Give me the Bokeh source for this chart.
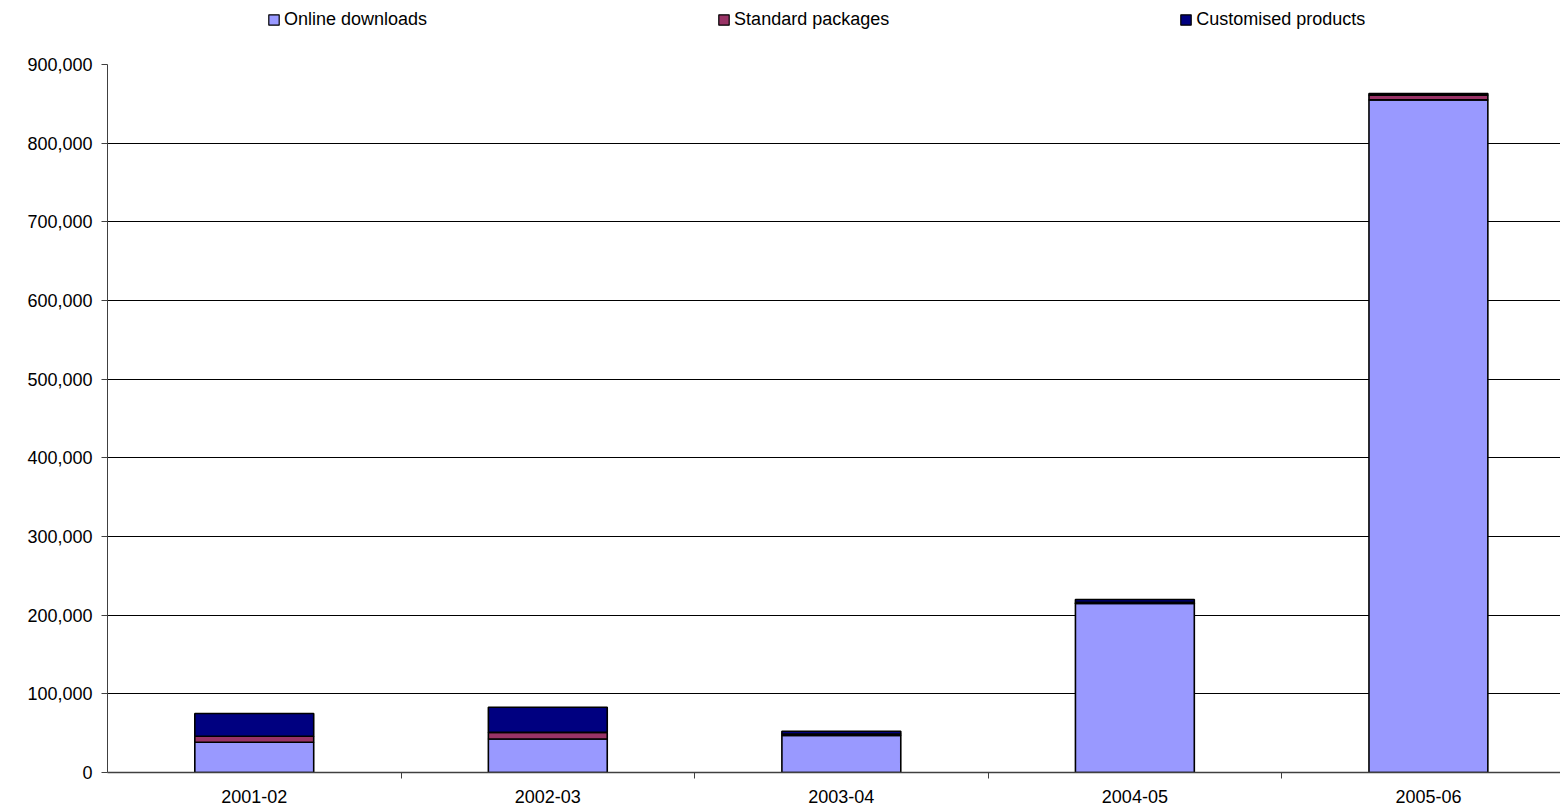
import numpy as np
from bokeh.plotting import figure
from bokeh.layouts import column
from bokeh.models import ColumnDataSource, Range1d, FixedTicker, NumeralTickFormatter, Legend, LegendItem
from bokeh.embed import file_html
from bokeh.resources import INLINE

years = ["2001-02", "2002-03", "2003-04", "2004-05", "2005-06"]
online = [38500, 42500, 47000, 215000, 855000]
standard = [7500, 8500, 2000, 1500, 6000]
customised = [29000, 32000, 3500, 3500, 2000]
series = ["Online downloads", "Standard packages", "Customised products"]
colors = ["#9999FF", "#993366", "#000080"]
keys = ["online", "standard", "customised"]

xs = list(np.arange(len(years)) + 0.5)
src = ColumnDataSource(dict(x=xs, online=online, standard=standard, customised=customised))

FONT = "Liberation Sans"
FW, FH = 1453, 708

p = figure(frame_width=FW, frame_height=FH, output_backend="svg", toolbar_location=None,
           x_range=Range1d(0, 4.95), y_range=Range1d(0, 900000),
           min_border_left=107, min_border_right=0, min_border_top=10, min_border_bottom=31)
p.outline_line_color = None
p.background_fill_color = "white"

rs = p.vbar_stack(keys, x="x", width=0.405, source=src,
                  fill_color=colors, line_color="black", line_width=1.6)

# axes
p.xaxis.ticker = FixedTicker(ticks=xs, minor_ticks=[1, 2, 3, 4])
p.xaxis.major_label_overrides = {x: y for x, y in zip(xs, years)}
p.xaxis.major_tick_line_color = None
p.xaxis.major_tick_out = 0
p.xaxis.major_tick_in = 0
p.xaxis.minor_tick_out = 6
p.xaxis.minor_tick_in = 0
p.xaxis.minor_tick_line_color = "#404040"
p.xaxis.axis_line_color = "#404040"
p.xaxis.axis_line_width = 1.5
p.xaxis.major_label_standoff = 11
p.xaxis.major_label_text_font = FONT
p.xaxis.major_label_text_font_size = "18px"
p.xaxis.major_label_text_color = "black"

p.yaxis.ticker = FixedTicker(ticks=list(range(0, 900001, 100000)))
p.yaxis.formatter = NumeralTickFormatter(format="0,0")
p.yaxis.major_tick_out = 6
p.yaxis.major_tick_in = 0
p.yaxis.minor_tick_line_color = None
p.yaxis.axis_line_color = "#404040"
p.yaxis.major_tick_line_color = "#404040"
p.yaxis.major_label_standoff = 9
p.yaxis.major_label_text_font = FONT
p.yaxis.major_label_text_font_size = "18px"
p.yaxis.major_label_text_color = "black"

p.xgrid.grid_line_color = None
p.ygrid.grid_line_color = "black"
p.ygrid.grid_line_width = 1

# legend strip above the chart (its own figure; its renderers are hidden, only legend glyphs show)
lg = figure(width=107 + FW, height=54, output_backend="svg", toolbar_location=None,
            x_range=Range1d(0, 1), y_range=Range1d(0, 1),
            min_border=0, x_axis_type=None, y_axis_type=None)
lg.outline_line_color = None
lg.grid.visible = False
lrs = lg.vbar_stack(keys, x="x", width=0.4, source=src,
                    fill_color=colors, line_color="black", line_width=1.2)
for r in lrs:
    r.visible = False

legend = Legend(items=[LegendItem(label=s, renderers=[r]) for s, r in zip(series, lrs)],
                orientation="horizontal", location=(160, 24), spacing=290,
                glyph_width=13, glyph_height=13, label_standoff=4,
                label_text_font=FONT, label_text_font_size="18px", label_text_color="black",
                inactive_fill_alpha=0,
                padding=4, margin=0, border_line_color=None, background_fill_alpha=0)
lg.add_layout(legend, "center")

layout = column(lg, p, spacing=0)
open("out.html", "w").write(file_html(layout, INLINE))
